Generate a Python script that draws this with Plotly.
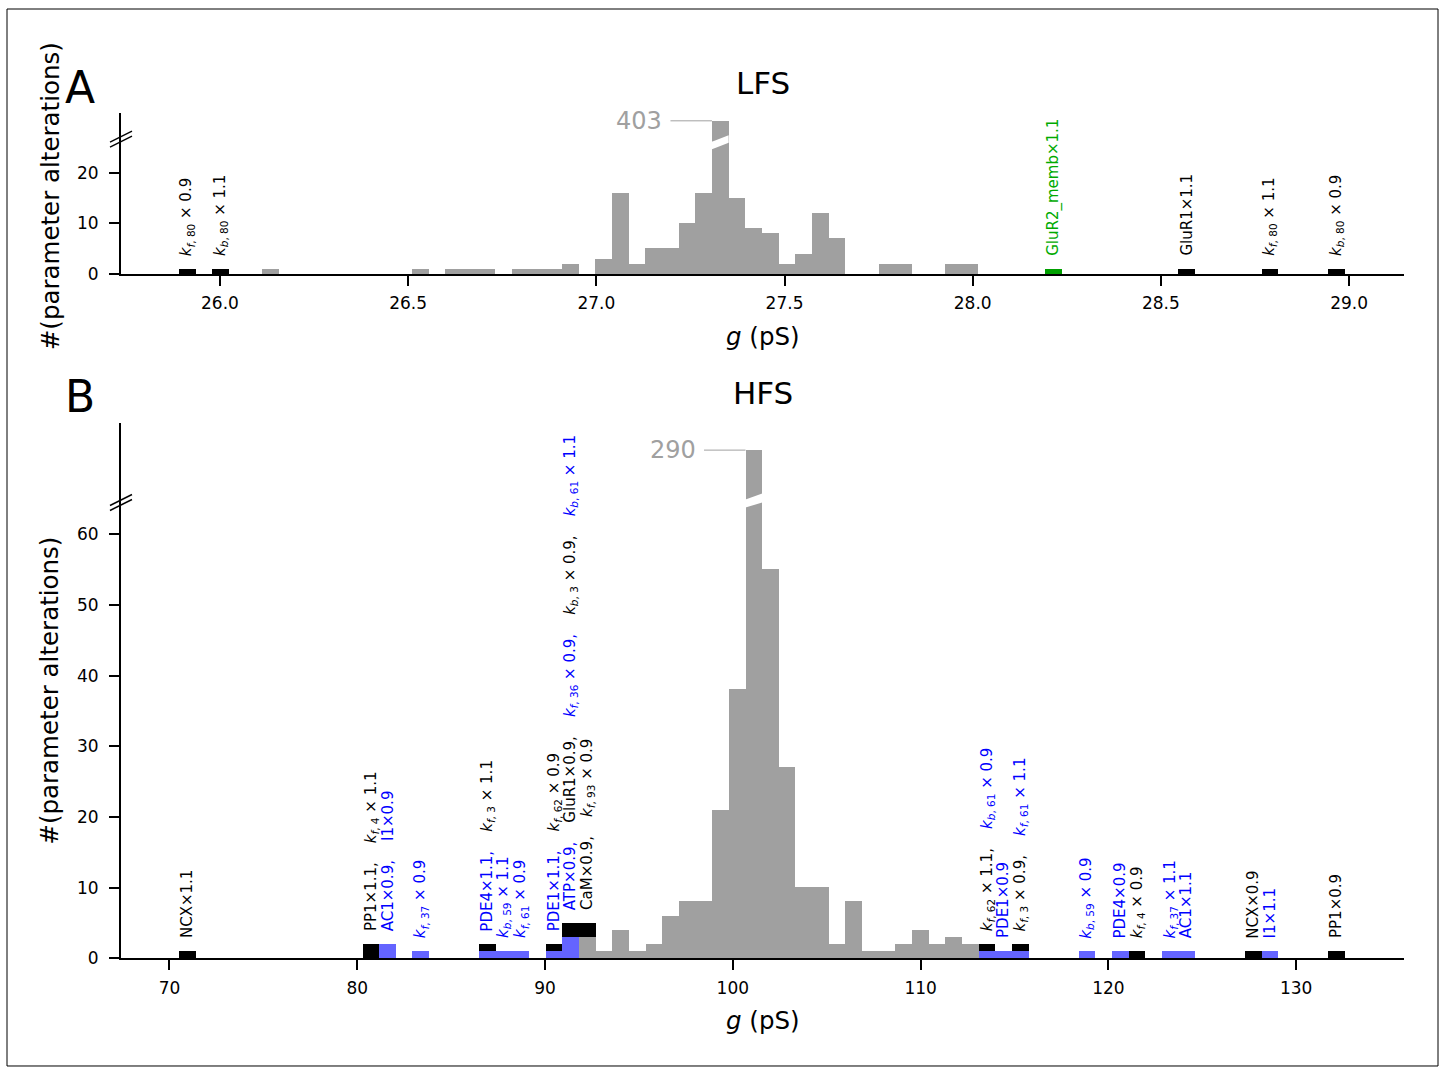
import re
import numpy as np
import plotly.graph_objects as go

# ---------------- data ----------------
N_BINS = 70
LFS_EDGES = (25.891, 28.989)     # histogram range, g (pS)
HFS_EDGES = (70.527, 132.598)

LFS_GRAY = [0, 0, 0, 0, 0, 1, 0, 0, 0, 0,
            0, 0, 0, 0, 1, 0, 1, 1, 1, 0,
            1, 1, 1, 2, 0, 3, 16, 2, 5, 5,
            10, 16, 403, 15, 9, 8, 2, 4, 12, 7,
            0, 0, 2, 2, 0, 0, 2, 2, 0, 0,
            0, 0, 0, 0, 0, 0, 0, 0, 0, 0,
            0, 0, 0, 0, 0, 0, 0, 0, 0, 0]
LFS_BLACK = [1, 0, 1, 0, 0, 0, 0, 0, 0, 0,
             0, 0, 0, 0, 0, 0, 0, 0, 0, 0,
             0, 0, 0, 0, 0, 0, 0, 0, 0, 0,
             0, 0, 0, 0, 0, 0, 0, 0, 0, 0,
             0, 0, 0, 0, 0, 0, 0, 0, 0, 0,
             0, 0, 0, 0, 0, 0, 0, 0, 0, 0,
             1, 0, 0, 0, 0, 1, 0, 0, 0, 1]
LFS_GREEN = [0, 0, 0, 0, 0, 0, 0, 0, 0, 0,
             0, 0, 0, 0, 0, 0, 0, 0, 0, 0,
             0, 0, 0, 0, 0, 0, 0, 0, 0, 0,
             0, 0, 0, 0, 0, 0, 0, 0, 0, 0,
             0, 0, 0, 0, 0, 0, 0, 0, 0, 0,
             0, 0, 1, 0, 0, 0, 0, 0, 0, 0,
             0, 0, 0, 0, 0, 0, 0, 0, 0, 0]

HFS_BLUE = [0, 0, 0, 0, 0, 0, 0, 0, 0, 0,
            0, 0, 2, 0, 1, 0, 0, 0, 1, 1,
            1, 0, 1, 3, 0, 0, 0, 0, 0, 0,
            0, 0, 0, 0, 0, 0, 0, 0, 0, 0,
            0, 0, 0, 0, 0, 0, 0, 0, 1, 1,
            1, 0, 0, 0, 1, 0, 1, 0, 0, 1,
            1, 0, 0, 0, 0, 1, 0, 0, 0, 0]
HFS_GRAY = [0, 0, 0, 0, 0, 0, 0, 0, 0, 0,
            0, 0, 0, 0, 0, 0, 0, 0, 0, 0,
            0, 0, 0, 0, 3, 1, 4, 1, 2, 6,
            8, 8, 21, 38, 290, 55, 27, 10, 10, 2,
            8, 1, 1, 2, 4, 2, 3, 2, 0, 0,
            0, 0, 0, 0, 0, 0, 0, 0, 0, 0,
            0, 0, 0, 0, 0, 0, 0, 0, 0, 0]
HFS_BLACK = [1, 0, 0, 0, 0, 0, 0, 0, 0, 0,
             0, 2, 0, 0, 0, 0, 0, 0, 1, 0,
             0, 0, 1, 2, 2, 0, 0, 0, 0, 0,
             0, 0, 0, 0, 0, 0, 0, 0, 0, 0,
             0, 0, 0, 0, 0, 0, 0, 0, 1, 0,
             1, 0, 0, 0, 0, 0, 0, 1, 0, 0,
             0, 0, 0, 0, 1, 0, 0, 0, 0, 1]

LFS_LABELS = [
    (0, [("k_{f,80} × 0.9", "black")]),
    (2, [("k_{b,80} × 1.1", "black")]),
    (52, [("GluR2_memb×1.1", "green")]),
    (60, [("GluR1×1.1", "black")]),
    (65, [("k_{f,80} × 1.1", "black")]),
    (69, [("k_{b,80} × 0.9", "black")]),
]
HFS_LABELS = [
    (0, [("NCX×1.1", "black")]),
    (11, [("PP1×1.1", "black"), ("k_{f,4} × 1.1", "black")]),
    (12, [("AC1×0.9", "blue"), ("I1×0.9", "blue")]),
    (14, [("k_{f,37} × 0.9", "blue")]),
    (18, [("PDE4×1.1", "blue"), ("k_{f,3} × 1.1", "black")]),
    (19, [("k_{b,59} × 1.1", "blue")]),
    (20, [("k_{f,61} × 0.9", "blue")]),
    (22, [("PDE1×1.1", "blue"), ("k_{f,62} × 0.9", "black")]),
    (23, [("ATP×0.9", "blue"), ("GluR1×0.9", "black"), ("k_{f,36} × 0.9", "blue"),
          ("k_{b,3} × 0.9", "black"), ("k_{b,61} × 1.1", "blue")]),
    (24, [("CaM×0.9", "black"), ("k_{f,93} × 0.9", "black")]),
    (48, [("k_{f,62} × 1.1", "black"), ("k_{b,61} × 0.9", "blue")]),
    (49, [("PDE1×0.9", "blue")]),
    (50, [("k_{f,3} × 0.9", "black"), ("k_{f,61} × 1.1", "blue")]),
    (54, [("k_{b,59} × 0.9", "blue")]),
    (56, [("PDE4×0.9", "blue")]),
    (57, [("k_{f,4} × 0.9", "black")]),
    (59, [("k_{f,37} × 1.1", "blue")]),
    (60, [("AC1×1.1", "blue")]),
    (64, [("NCX×0.9", "black")]),
    (65, [("I1×1.1", "blue")]),
    (69, [("PP1×0.9", "black")]),
]

BAR_COLORS = {"gray": "#a0a0a0", "blue": "#6464ff", "black": "#000000", "green": "#00a000"}
TEXT_COLORS = {"black": "#000000", "blue": "#0000ff", "green": "#00aa00"}
FONT = "DejaVu Sans"

# ---------------- layout geometry ----------------
W = 1444
H_REF = 1067          # pixel grid of the reference picture
H_FIG = 1078          # figure height
X_L, X_R = 121, 1404


def px(x):
    return x / W


def py(y):
    return 1 - y / H_REF


def to_html(s):
    return re.sub(r"k_\{(\w),(\d+)\}", r"<i>k</i><sub><i>\1</i>, \2</sub>", s)


def label_html(entries):
    parts = []
    for i, (t, c) in enumerate(entries):
        txt = to_html(t) + ("," if i < len(entries) - 1 else "")
        parts.append('<span style="color:%s">%s</span>' % (TEXT_COLORS[c], txt))
    return " &nbsp;&nbsp;&nbsp;".join(parts)


fig = go.Figure()
annotations = []
shapes = []


def add_panel(edges, series, labels, xa, ya_lo, ya_hi, xref, yref_lo, yref_hi,
              big_bin, big_val):
    lo, hi = edges
    w = (hi - lo) / N_BINS
    centers = lo + w * (np.arange(N_BINS) + 0.5)
    for ya in (ya_lo, ya_hi):
        for counts, cname in series:
            fig.add_trace(go.Bar(x=centers, y=counts, width=w, xaxis=xa, yaxis=ya,
                                 marker=dict(color=BAR_COLORS[cname], line=dict(width=0)),
                                 showlegend=False, hoverinfo="skip"))
    totals = np.sum([np.array(c) for c, _ in series], axis=0)
    for b, entries in labels:
        annotations.append(dict(x=centers[b], y=float(totals[b]), xref=xref, yref=yref_lo,
                                text=label_html(entries), showarrow=False, textangle=-90,
                                xanchor="center", yanchor="bottom", yshift=11,
                                font=dict(family=FONT, size=15, color="black")))
    left = lo + w * big_bin
    annotations.append(dict(x=left, y=big_val, xref=xref, yref=yref_hi, text=str(big_val),
                            showarrow=True, arrowhead=0, arrowwidth=1, arrowcolor="#a0a0a0",
                            ax=-73, ay=0, axref="pixel", ayref="pixel", startstandoff=7,
                            font=dict(family=FONT, size=24, color="#a0a0a0")))
    return left, left + w


# panel A
series_A = [(LFS_GRAY, "gray"), (LFS_GREEN, "green"), (LFS_BLACK, "black")]
a0, a1 = add_panel(LFS_EDGES, series_A, LFS_LABELS, "x", "y", "y2", "x", "y", "y2",
                   int(np.argmax(LFS_GRAY)), int(max(LFS_GRAY)))
# panel B
series_B = [(HFS_BLUE, "blue"), (HFS_GRAY, "gray"), (HFS_BLACK, "black")]
b0, b1 = add_panel(HFS_EDGES, series_B, HFS_LABELS, "x2", "y3", "y4", "x2", "y3", "y4",
                   int(np.argmax(HFS_GRAY)), int(max(HFS_GRAY)))

# white slash across the truncated bars
for (xr, x0, x1, yl, yr) in [("x", a0, a1, (141.5, 149.0), (135.0, 142.5)),
                             ("x2", b0, b1, (499.0, 507.0), (493.0, 502.0))]:
    e = 0.001 * (x1 - x0)
    shapes.append(dict(type="path", xref=xr, yref="paper",
                       path="M %f,%f L %f,%f L %f,%f L %f,%f Z" % (
                           x0 - e, py(yl[0]), x1 + e, py(yr[0]),
                           x1 + e, py(yr[1]), x0 - e, py(yl[1])),
                       fillcolor="white", line=dict(width=0), layer="above"))

# axis break marks
for yc in (139.0, 502.0):
    for off in (-2.5, 2.5):
        shapes.append(dict(type="line", xref="paper", yref="paper",
                           x0=px(X_L - 11), y0=py(yc + off + 5.5),
                           x1=px(X_L + 11), y1=py(yc + off - 5.5),
                           line=dict(color="black", width=1.5)))

# outer frame
shapes.append(dict(type="rect", xref="paper", yref="paper", x0=px(7), x1=px(1438),
                   y0=py(1065), y1=py(9), line=dict(color="black", width=1)))


# text: titles, letters, axis labels
def txt(x, y, s, size, angle=0, xanchor="center", yanchor="middle"):
    annotations.append(dict(x=px(x), y=py(y), xref="paper", yref="paper", text=s,
                            showarrow=False, textangle=angle, xanchor=xanchor,
                            yanchor=yanchor, font=dict(family=FONT, size=size, color="black")))


txt(762.5, 82.5, "LFS", 31)
txt(762.5, 393, "HFS", 31)
txt(80, 87, "A", 44)
txt(80, 396, "B", 44)
txt(762.5, 336, "<i>g</i> (pS)", 24.5)
txt(762.5, 1020, "<i>g</i> (pS)", 24.5)
txt(50, 196, "#(parameter alterations)", 24.5, angle=-90)
txt(50, 690, "#(parameter alterations)", 24.5, angle=-90)

axis_common = dict(showline=True, linewidth=2, linecolor="black", showgrid=False,
                   zeroline=False, ticks="outside", ticklen=10, tickwidth=2,
                   tickcolor="black", tickfont=dict(family=FONT, size=17, color="black"))
upper_common = dict(showline=True, linewidth=2, linecolor="black", showgrid=False,
                    zeroline=False, ticks="", showticklabels=False)

fig.update_layout(
    width=W, height=H_FIG, autosize=False, margin=dict(l=0, r=0, t=0, b=0, pad=0),
    paper_bgcolor="white", plot_bgcolor="white",
    barmode="stack", bargap=0, showlegend=False,
    font=dict(family=FONT, color="black"),
    xaxis=dict(domain=[px(X_L), px(X_R)], range=[25.737, 29.146], anchor="y",
               tick0=26, dtick=0.5, tickformat=".1f", ticklabelstandoff=3, **axis_common),
    yaxis=dict(domain=[py(273.7), py(141)], range=[0, 26.2], anchor="x",
               tickvals=[0, 10, 20], ticklabelstandoff=7, **axis_common),
    yaxis2=dict(domain=[py(141), py(113)], range=[390, 407.93], anchor="x", **upper_common),
    xaxis2=dict(domain=[px(X_L), px(X_R)], range=[67.42, 135.74], anchor="y3",
                tick0=70, dtick=10, ticklabelstandoff=3, **axis_common),
    yaxis3=dict(domain=[py(957.5), py(501)], range=[0, 64.66], anchor="x2",
                tickvals=[0, 10, 20, 30, 40, 50, 60], ticklabelstandoff=7, **axis_common),
    yaxis4=dict(domain=[py(501), py(422.5)], range=[270, 300.6], anchor="x2", **upper_common),
    annotations=annotations, shapes=shapes,
)

fig.write_html("out.html", config={"responsive": False})
